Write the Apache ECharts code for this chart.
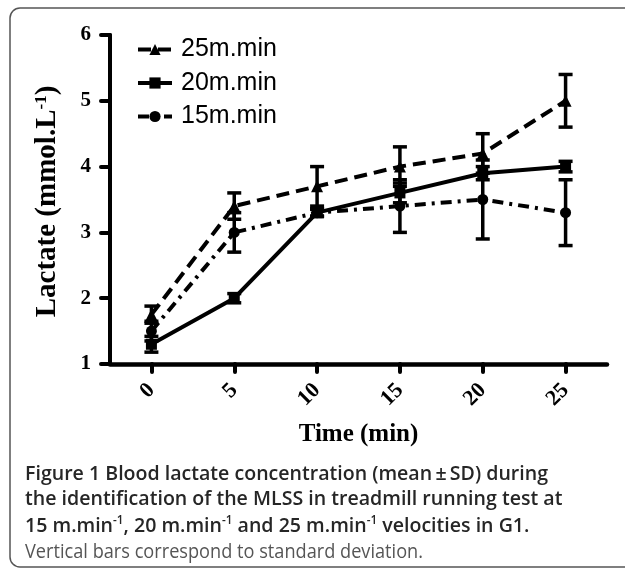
<!DOCTYPE html>
<html>
<head>
<meta charset="utf-8">
<script src="https://cdn.jsdelivr.net/npm/echarts@6/dist/echarts.min.js"></script>
<style>
  html, body { margin: 0; padding: 0; background: #fff; }
  #chart { width: 625px; height: 572px; }
</style>
</head>
<body>
<div id="chart"></div>
<script>
// time points (min)
const times = [0, 5, 10, 15, 20, 25];
const xTicks = [0, 5, 10, 15, 20, 25];

// lactate mean and SD per velocity
const mean25 = [1.75, 3.4, 3.7, 4.0, 4.2, 5.0];
const sd25 = [0.13, 0.2, 0.3, 0.3, 0.3, 0.4];
const mean20 = [1.3, 2.0, 3.3, 3.6, 3.9, 4.0];
const sd20 = [0.12, 0.07, 0.05, 0.15, 0.1, 0.08];
const mean15 = [1.5, 3.0, 3.3, 3.4, 3.5, 3.3];
const sd15 = [0.15, 0.3, 0.06, 0.4, 0.6, 0.5];

const names = ['25m.min', '20m.min', '15m.min'];

const captionLines = [
  'Figure 1 Blood lactate concentration (mean\u2009\u00b1\u2009SD) during',
  'the identification of the MLSS in treadmill running test at',
  '15 m.min{s|-1}, 20 m.min{s|-1} and 25 m.min{s|-1} velocities in G1.',
  'Vertical bars correspond to standard deviation.'
];

const chart = echarts.init(document.getElementById('chart'), null, { renderer: 'canvas' });

// 标题字体是窄体, 用 scaleX 压一下
function textScale(text, font, target) {
  const ctx = document.createElement('canvas').getContext('2d');
  ctx.font = font;
  return target / ctx.measureText(text).width;
}
const boldFont = '600 20px "Open Sans"';
const capScale = textScale(captionLines[0], boldFont, 523);
const noteScale = textScale(captionLines[3], '400 20px "Open Sans"', 398);

function pointData(mean) {
  return times.map((t, i) => [t, mean[i]]);
}
function barData(mean, sd) {
  return times.map((t, i) => [t, mean[i] - sd[i], mean[i] + sd[i]]);
}

function renderErrorBar(params, api) {
  const x = api.value(0);
  const lo = api.coord([x, api.value(1)]);
  const hi = api.coord([x, api.value(2)]);
  const w = 7;
  const st = () => ({ stroke: '#000', lineWidth: 3.5 });
  return {
    type: 'group',
    children: [
      { type: 'line', shape: { x1: lo[0], y1: lo[1], x2: hi[0], y2: hi[1] }, style: st() },
      { type: 'line', shape: { x1: lo[0] - w, y1: lo[1], x2: lo[0] + w, y2: lo[1] }, style: st() },
      { type: 'line', shape: { x1: hi[0] - w, y1: hi[1], x2: hi[0] + w, y2: hi[1] }, style: st() }
    ]
  };
}

function errorSeries(name, mean, sd) {
  return {
    name: name + ' sd',
    type: 'custom',
    renderItem: renderErrorBar,
    data: barData(mean, sd),
    encode: { x: 0, y: [1, 2] },
    z: 3
  };
}

const captionGraphics = captionLines.map((line, i) => {
  const last = i === 3;
  return {
    type: 'text',
    x: 25,
    y: [474, 499, 526, 552][i],
    scaleX: last ? noteScale : capScale,
    style: {
      text: line,
      fontFamily: 'Open Sans',
      fontWeight: last ? 400 : 600,
      fontSize: 20,
      fill: last ? '#555' : '#262626',
      verticalAlign: 'middle',
      rich: {
        s: { fontFamily: 'Open Sans', fontWeight: 600, fontSize: 12, padding: [0, 0, 10, 0], fill: '#262626' }
      }
    }
  };
});

const option = {
  backgroundColor: '#fff',
  animation: false,
  grid: { left: 110, right: 18, top: 35, bottom: 208 },
  legend: {
    data: names,
    orient: 'vertical',
    left: 131,
    top: 32,
    itemWidth: 34,
    itemHeight: 14,
    itemGap: 8.5,
    lineStyle: { width: 4 },
    textStyle: { fontFamily: 'Liberation Sans', fontSize: 25, color: '#000', padding: [0, 0, 0, 4] }
  },
  xAxis: {
    type: 'value',
    min: -2.5,
    max: 27.5,
    name: 'Time (min)',
    nameLocation: 'middle',
    nameGap: 58,
    nameTextStyle: { fontFamily: 'Liberation Serif', fontWeight: 'bold', fontSize: 25, color: '#000' },
    axisLine: { onZero: false, lineStyle: { color: '#000', width: 4.5 } },
    axisTick: { customValues: xTicks, length: 8, lineStyle: { color: '#000', width: 4, cap: 'round' } },
    axisLabel: {
      customValues: xTicks,
      rotate: 45,
      margin: 23,
      fontFamily: 'Liberation Serif',
      fontWeight: 'bold',
      fontSize: 22,
      color: '#000'
    },
    splitLine: { show: false }
  },
  yAxis: {
    type: 'value',
    min: 1,
    max: 6,
    interval: 1,
    name: 'Lactate (mmol.L{s|-1})',
    nameLocation: 'middle',
    nameGap: 47,
    nameTextStyle: {
      fontFamily: 'Liberation Serif',
      fontWeight: 'bold',
      fontSize: 29,
      color: '#000',
      padding: [0, 4, 0, 0],
      rich: {
        s: { fontFamily: 'Liberation Serif', fontWeight: 'bold', fontSize: 17, padding: [0, 0, 13, 0], color: '#000' }
      }
    },
    axisLine: { show: true, onZero: false, lineStyle: { color: '#000', width: 4 } },
    axisTick: { show: true, length: 9, lineStyle: { color: '#000', width: 4, cap: 'round' } },
    axisLabel: {
      margin: 19,
      fontFamily: 'Liberation Serif',
      fontWeight: 'bold',
      fontSize: 21,
      color: '#000'
    },
    splitLine: { show: false }
  },
  series: [
    {
      name: names[0],
      type: 'line',
      data: pointData(mean25),
      symbol: 'triangle',
      symbolSize: 12,
      itemStyle: { color: '#000' },
      lineStyle: { color: '#000', width: 4, type: [13, 7] },
      z: 4
    },
    {
      name: names[1],
      type: 'line',
      data: pointData(mean20),
      symbol: 'rect',
      symbolSize: 11,
      itemStyle: { color: '#000' },
      lineStyle: { color: '#000', width: 4, type: 'solid' },
      z: 4
    },
    {
      name: names[2],
      type: 'line',
      data: pointData(mean15),
      symbol: 'circle',
      symbolSize: 11,
      itemStyle: { color: '#000' },
      lineStyle: { color: '#000', width: 4, type: [11, 6, 3, 6] },
      z: 4
    },
    errorSeries(names[0], mean25, sd25),
    errorSeries(names[1], mean20, sd20),
    errorSeries(names[2], mean15, sd15)
  ],
  graphic: [
    {
      type: 'rect',
      shape: { x: 10, y: 8, width: 700, height: 559, r: 10 },
      style: { fill: 'transparent', stroke: '#555', lineWidth: 1.5 },
      z: -1
    }
  ].concat(captionGraphics)
};

chart.setOption(option);
</script>
</body>
</html>
